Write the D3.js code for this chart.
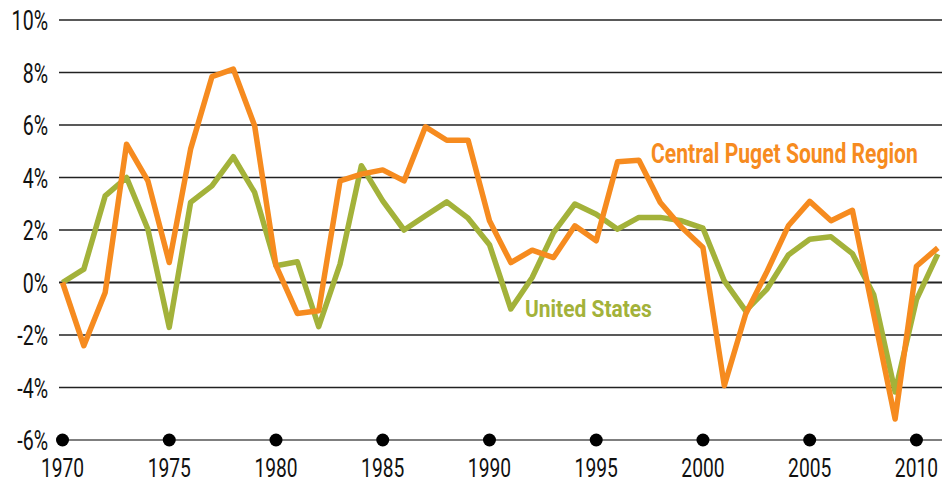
<!DOCTYPE html>
<html>
<head>
<meta charset="utf-8">
<script src="https://d3js.org/d3.v7.min.js"></script>
<style>
  body { margin: 0; background: #fff; }
  text { font-family: Roboto, "Noto Sans", sans-serif; }
  .tickLabel { font-size: 28px; fill: #111; }
  .xLabel { font-size: 26px; }
  .seriesLabel { font-weight: bold; }
</style>
</head>
<body>
<script>
var width = 942;
var height = 484;

// data, annual employment growth (%)
var years = d3.range(1970, 2012);
var pugetSound = [0, -2.41, -0.38, 5.27, 3.87, 0.76, 5.08, 7.84, 8.13, 5.97,
  0.64, -1.18, -1.08, 3.87, 4.13, 4.29, 3.87, 5.93, 5.42, 5.42,
  2.35, 0.76, 1.23, 0.95, 2.16, 1.59, 4.6, 4.66, 3.05, 2.1,
  1.33, -3.93, -1.2, 0.42, 2.16, 3.09, 2.35, 2.75, -1.23, -5.2,
  0.62, 1.32];
var unitedStates = [0, 0.51, 3.3, 4.0, 2.03, -1.71, 3.05, 3.68, 4.79, 3.43,
  0.64, 0.79, -1.68, 0.7, 4.45, 3.11, 2.0, 2.54, 3.07, 2.45,
  1.44, -1.01, 0.19, 1.9, 2.99, 2.6, 2.03, 2.48, 2.48, 2.35,
  2.07, 0.06, -1.08, -0.25, 1.05, 1.65, 1.74, 1.1, -0.47, -4.17,
  -0.65, 1.08];
var yTicks = [-6, -4, -2, 0, 2, 4, 6, 8, 10];
var xTicks = [1970, 1975, 1980, 1985, 1990, 1995, 2000, 2005, 2010];

var orange = "#f68b1f";
var green = "#a3b23a";
var squeeze = 0.7; // condensed look for the tick labels

var svg = d3.select("body").append("svg")
  .attr("width", width)
  .attr("height", height);

var x = d3.scaleLinear()
  .domain([1970, 2011])
  .range([62.5, 937.8]);

var y = d3.scaleLinear()
  .domain([-6, 10])
  .range([440, 20]);

// gridlines
svg.selectAll("line.grid")
  .data(yTicks)
  .enter()
  .append("line")
  .attr("class", "grid")
  .attr("x1", 59)
  .attr("x2", width)
  .attr("y1", d => y(d))
  .attr("y2", d => y(d))
  .style("stroke", d => d == -6 ? "#555" : "#222")
  .style("stroke-width", d => d == 0 ? 2 : 1.4);

// y labels
svg.selectAll("text.yLabel")
  .data(yTicks)
  .enter()
  .append("text")
  .attr("class", "tickLabel yLabel")
  .attr("transform", d => `translate(48, ${y(d) + 10}) scale(${squeeze}, 1)`)
  .style("text-anchor", "end")
  .text(d => d + "%");

// year markers on the bottom line
svg.selectAll("circle.tick")
  .data(xTicks)
  .enter()
  .append("circle")
  .attr("class", "tick")
  .attr("cx", d => x(d))
  .attr("cy", y(-6))
  .attr("r", 6.5)
  .style("fill", "#000");

svg.selectAll("text.xLabel")
  .data(xTicks)
  .enter()
  .append("text")
  .attr("class", "tickLabel xLabel")
  .attr("transform", d => `translate(${x(d)}, 477) scale(${squeeze + 0.04}, 1)`)
  .style("text-anchor", "middle")
  .text(d => d);

var line = d3.line()
  .x((d, i) => x(years[i]))
  .y(d => y(d));

svg.append("path")
  .datum(unitedStates)
  .attr("d", line)
  .style("fill", "none")
  .style("stroke", green)
  .style("stroke-width", 5.5)
  .style("stroke-linejoin", "round");

svg.append("path")
  .datum(pugetSound)
  .attr("d", line)
  .style("fill", "none")
  .style("stroke", orange)
  .style("stroke-width", 5.5)
  .style("stroke-linejoin", "round");

// series labels, squeezed to the width they have in the original
const seriesLabel = function(txt, lx, ly, size, fitWidth, color) {
  let t = svg.append("text")
    .attr("class", "seriesLabel")
    .style("font-size", size + "px")
    .style("fill", color)
    .text(txt);
  let k = fitWidth / t.node().getComputedTextLength();
  t.attr("transform", `translate(${lx}, ${ly}) scale(${k}, 1)`);
}

seriesLabel("Central Puget Sound Region", 651, 163, 28, 267, orange);
seriesLabel("United States", 525, 317, 24, 127, green);
</script>
</body>
</html>
